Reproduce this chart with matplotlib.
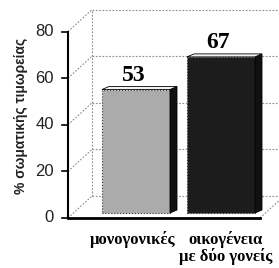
import matplotlib.pyplot as plt
from matplotlib.patches import Polygon
import numpy as np

# data
categories = ['μονογονικές', 'οικογένεια\nμε δύο γονείς']
values = [53, 67]
bar_colors = ['#ababab', '#1c1c1c']
y_ticks = [0, 20, 40, 60, 80]
y_label = '% σωματικής τιμωρείας'

# layout (1 x unit = 85 px, 1 y unit = 2.33 px)
W, H = 279, 268
xu, yu = 85.0, 2.33
x0px, y0px = 136, 50          # pixel position of category 0 / value 0 (from bottom)
xlim = (-x0px / xu, (W - x0px) / xu)
ylim = (-y0px / yu, (H - y0px) / yu)

ax_x = (68 - x0px) / xu       # y-axis position
DX, DY = 24 / xu, 22 / yu     # back wall depth offset
bar_w = 0.8
bar_bottom = 5 / yu
sdx, sdy = 7 / xu, 3 / yu     # bar side/top depth

fig = plt.figure(figsize=(W / 100, H / 100), dpi=100)
ax = fig.add_axes([0, 0, 1, 1])
ax.set_xlim(*xlim)
ax.set_ylim(*ylim)
ax.axis('off')

grid_kw = dict(color='#8c8c8c', lw=0.8, ls=(0, (1.5, 1.5)))
right_x = xlim[1]
for v in y_ticks:
    # back wall gridline and diagonal
    ax.plot([ax_x + DX, right_x], [v + DY, v + DY], **grid_kw)
    ax.plot([ax_x, ax_x + DX], [v, v + DY], **grid_kw)
    # tick + label
    ax.plot([ax_x - 6 / xu, ax_x], [v, v], color='k', lw=1.2)
    ax.text(ax_x - 14 / xu, v, str(v), ha='right', va='center',
            fontsize=12, family='Liberation Sans', color='#222222')
# back wall left edge
ax.plot([ax_x + DX, ax_x + DX], [DY, 80 + DY], **grid_kw)

# floor
floor_end = (260 - x0px) / xu
ax.plot([floor_end, floor_end + DX], [0, DY], **grid_kw)
ax.plot([ax_x, floor_end], [0, 0], color='k', lw=2)
ax.plot([ax_x, ax_x], [0, 80], color='k', lw=1.5)

# bars
xs = np.arange(len(values))
bars = ax.bar(xs, values, width=bar_w, bottom=bar_bottom, color=bar_colors,
              edgecolor='#333333', linewidth=0.8, linestyle=':', zorder=3)
for b, c in zip(bars, bar_colors):
    l, r = b.get_x(), b.get_x() + b.get_width()
    t = b.get_y() + b.get_height()
    bot = b.get_y()
    side = Polygon([[r, bot], [r + sdx, bot + sdy], [r + sdx, t + sdy], [r, t]],
                   closed=True, fc='#111111', ec='k', lw=0.6, zorder=3)
    top = Polygon([[l, t], [l + sdx, t + sdy], [r + sdx, t + sdy], [r, t]],
                  closed=True, fc='#f2f2f2', ec='k', lw=0.6, zorder=3)
    ax.add_patch(side)
    ax.add_patch(top)

for x, v in zip(xs, values):
    ax.text(x - 0.03, v + bar_bottom + 1.5, str(v), ha='center', va='bottom',
            fontsize=17, fontweight='bold', family='Liberation Serif')

# category labels
ax.text(xs[0] - 0.04, -5.5, categories[0], ha='center', va='top',
        fontsize=12, fontweight='bold', family='Liberation Serif')
ax.text(xs[1] + 0.05, -5.5, categories[1], ha='center', va='top',
        fontsize=12, fontweight='bold', family='Liberation Serif',
        linespacing=1.0)

ax.text((21 - x0px) / xu, 44, y_label, rotation=90, ha='center', va='center',
        fontsize=10, fontweight='bold', family='Liberation Sans',
        color='#222222')

fig.savefig('out.png', dpi=100)
